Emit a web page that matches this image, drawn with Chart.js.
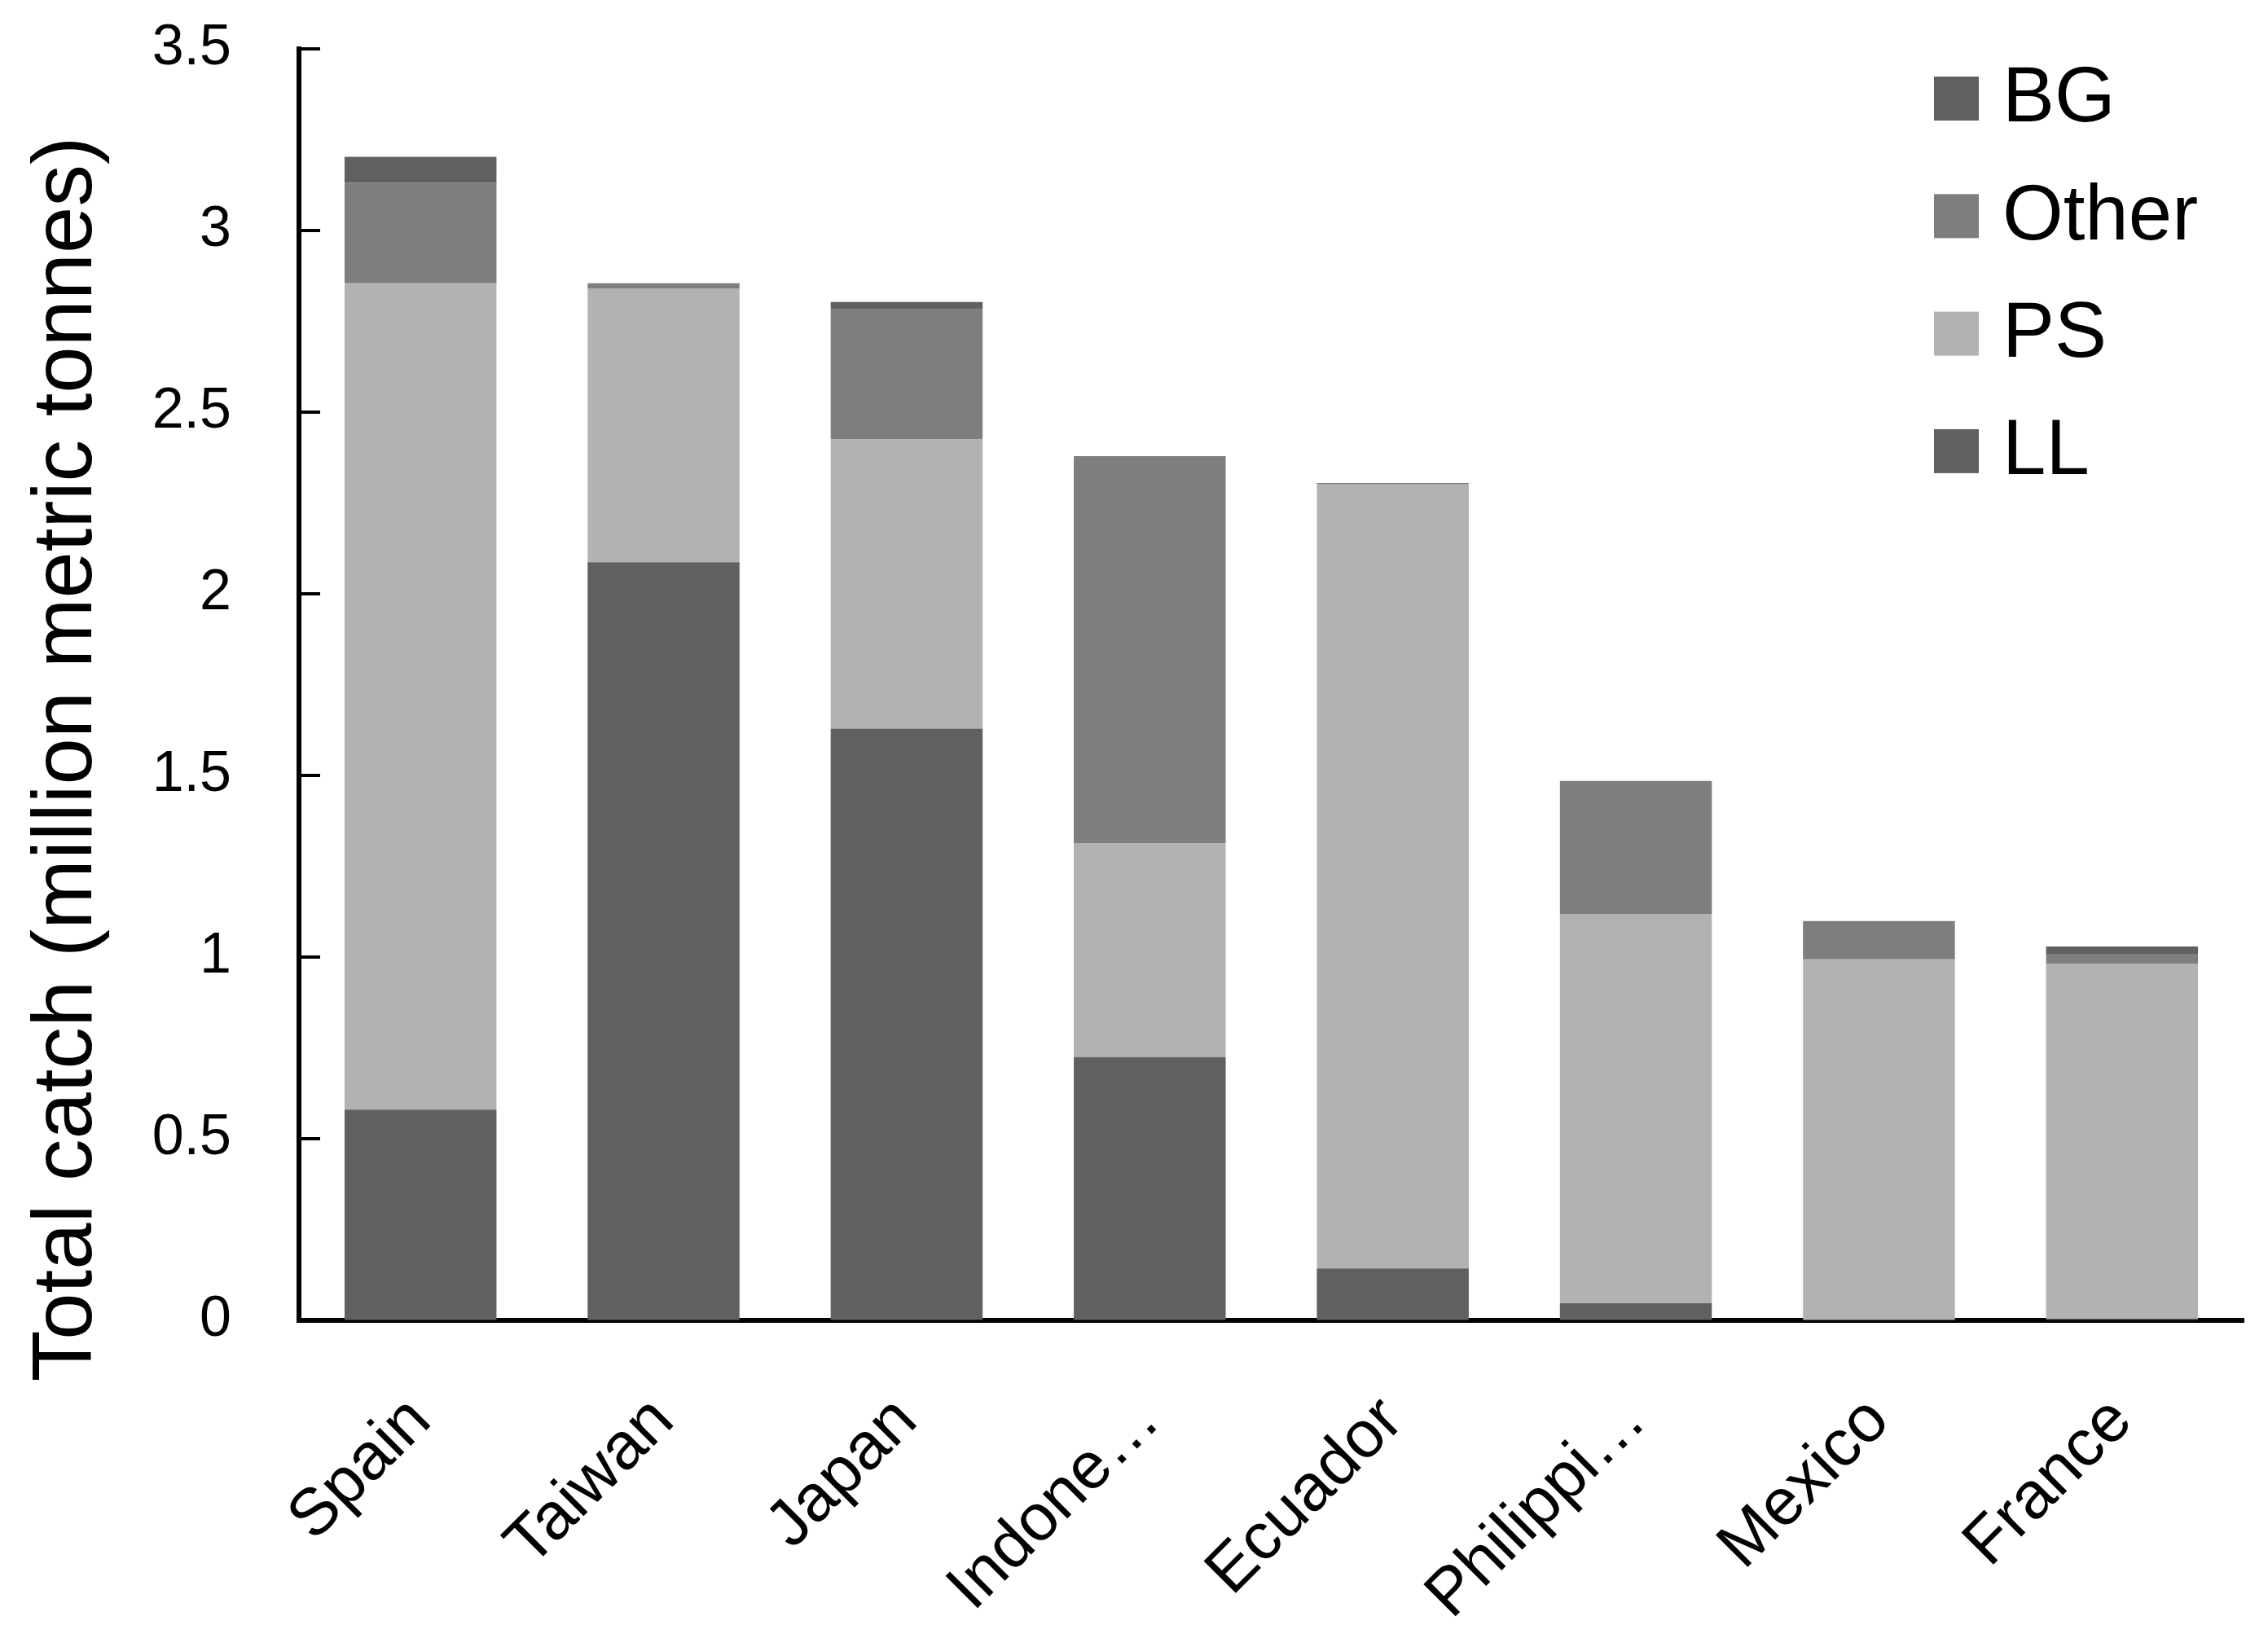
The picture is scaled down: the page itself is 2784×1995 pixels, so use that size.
<!DOCTYPE html>
<html>
<head>
<meta charset="utf-8">
<script src="https://cdn.jsdelivr.net/npm/chart.js@4.4.1/dist/chart.umd.min.js"></script>
<style>
  html, body { margin: 0; padding: 0; background: #fff; }
  #wrap { width: 2784px; height: 1995px; }
</style>
</head>
<body>
<div id="wrap"><canvas id="chart-catch" width="2784" height="1995"></canvas></div>
<script>
// Total catch by country and gear (million metric tonnes)
const countries = ['Spain', 'Taiwan', 'Japan', 'Indone\u2026', 'Ecuador', 'Philippi\u2026', 'Mexico', 'France'];
const llCatch    = [0.58, 2.087, 1.629, 0.725, 0.143, 0.047, 0.0,   0.004];
const psCatch    = [2.275, 0.754, 0.796, 0.589, 2.158, 1.072, 0.994, 0.978];
const otherCatch = [0.276, 0.014, 0.358, 1.065, 0.004, 0.366, 0.105, 0.027];
const bgCatch    = [0.072, 0.0,   0.02,  0.0,   0.0,   0.0,   0.0,   0.02];
const yTicks = [0, 0.5, 1, 1.5, 2, 2.5, 3, 3.5];
const yTitle = 'Total catch (million metric tonnes)';

const FONT = 'Liberation Sans';

// inward tick marks on the y axis
const innerTicks = {
    id: 'innerTicks',
    afterDatasetsDraw(chart) {
        const y = chart.scales.y;
        const ctx = chart.ctx;
        const x0 = chart.chartArea.left;
        ctx.save();
        ctx.strokeStyle = '#000';
        ctx.lineWidth = 4;
        yTicks.forEach(v => {
            const py = Math.round(y.getPixelForValue(v));
            ctx.beginPath();
            ctx.moveTo(x0, py);
            ctx.lineTo(x0 + 26, py);
            ctx.stroke();
        });
        ctx.restore();
    }
};

// legend stacked top-right, inside the plot, top series first
// plus the y title, which sits a bit below the axis middle
const stackLegend = {
    id: 'stackLegend',
    afterDraw(chart) {
        const ctx = chart.ctx;
        const sets = chart.data.datasets.slice().reverse();
        ctx.save();
        ctx.font = `96px "${FONT}"`;
        ctx.textBaseline = 'middle';
        ctx.textAlign = 'left';
        sets.forEach((ds, i) => {
            const cy = 121 + i * 144.3;
            ctx.fillStyle = ds.backgroundColor;
            ctx.fillRect(2374, cy - 27, 55, 54);
            ctx.fillStyle = '#000';
            ctx.fillText(ds.label, 2458, cy + 2);
        });

        ctx.translate(84, 932);
        ctx.rotate(-Math.PI / 2);
        ctx.font = `103px "${FONT}"`;
        ctx.textAlign = 'center';
        ctx.fillText(yTitle, 0, 0);
        ctx.restore();
    }
};

new Chart(document.getElementById('chart-catch'), {
    type: 'bar',
    data: {
        labels: countries,
        datasets: [
            { label: 'LL', data: llCatch, backgroundColor: '#606060' },
            { label: 'PS', data: psCatch, backgroundColor: '#b2b2b2' },
            { label: 'Other', data: otherCatch, backgroundColor: '#7e7e7e' },
            { label: 'BG', data: bgCatch, backgroundColor: '#606060' }
        ]
    },
    options: {
        responsive: false,
        devicePixelRatio: 1,
        animation: false,
        layout: { padding: { top: 60, right: 30, left: 0, bottom: 0 } },
        datasets: {
            bar: { categoryPercentage: 1, barPercentage: 0.625, borderWidth: 0 }
        },
        plugins: { legend: { display: false }, tooltip: { enabled: false } },
        scales: {
            x: {
                stacked: true,
                grid: { display: false, drawTicks: false },
                border: { display: true, color: '#000', width: 6 },
                ticks: {
                    color: '#000', font: { family: FONT, size: 81 },
                    minRotation: 45, maxRotation: 45, autoSkip: false, padding: 76
                },
                afterFit(scale) { scale.height = 374; }
            },
            y: {
                stacked: true,
                min: 0, max: 3.5,
                grid: { drawOnChartArea: false, drawTicks: true, tickLength: 73, tickColor: 'rgba(0,0,0,0)' },
                border: { display: true, color: '#000', width: 6 },
                ticks: {
                    stepSize: 0.5, color: '#000', padding: 10,
                    font: { family: FONT, size: 70 },
                    callback: v => String(v)
                },
                afterFit(scale) { scale.width = 367; }
            }
        }
    },
    plugins: [innerTicks, stackLegend]
});
</script>
</body>
</html>
